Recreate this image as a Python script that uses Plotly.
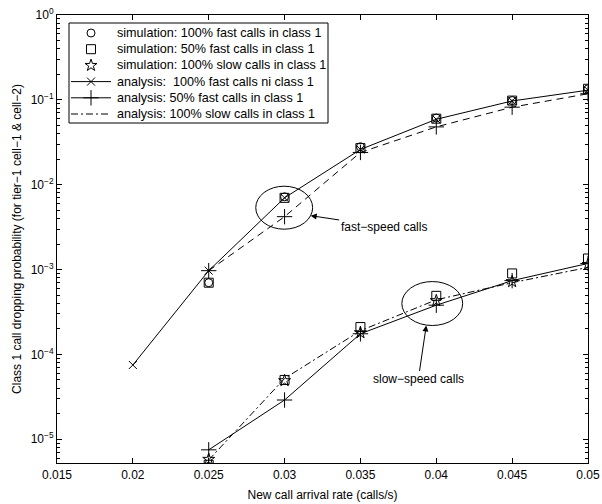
import plotly.graph_objects as go

# ---------------- data ----------------
x_all = [0.02, 0.025, 0.03, 0.035, 0.04, 0.045, 0.05]
x_sim = [0.025, 0.03, 0.035, 0.04, 0.045, 0.05]

# fast-speed group
sim_100fast_fast = [7.0e-4, 7.2e-3, 2.8e-2, 6.1e-2, 9.8e-2, 1.35e-1]
sim_50fast_fast = [7.0e-4, 7.0e-3, 2.7e-2, 6.0e-2, 9.8e-2, 1.35e-1]
ana_100fast_fast = [7.5e-5, 9.7e-4, 7.0e-3, 2.6e-2, 5.9e-2, 9.7e-2, 1.3e-1]
ana_50fast_fast = [9.7e-4, 4.2e-3, 2.4e-2, 4.8e-2, 8.2e-2, 1.18e-1]

# slow-speed group
sim_50fast_slow = [5.0e-6, 5.0e-5, 2.1e-4, 4.9e-4, 9.0e-4, 1.35e-3]
sim_100slow_slow = [5.8e-6, 4.9e-5, 1.8e-4, 4.3e-4, 7.2e-4, 1.15e-3]
ana_50fast_slow = [7.5e-6, 2.9e-5, 1.75e-4, 3.8e-4, 7.4e-4, 1.18e-3]
ana_100slow_slow = [5.7e-6, 5.2e-5, 1.9e-4, 4.4e-4, 7.0e-4, 1.06e-3]

x_ticks = [0.015, 0.02, 0.025, 0.03, 0.035, 0.04, 0.045, 0.05]
x_ticklabels = ["0.015", "0.02", "0.025", "0.03", "0.035", "0.04", "0.045", "0.05"]
y_ticks = [1e-5, 1e-4, 1e-3, 1e-2, 1e-1, 1]
y_ticklabels = ["10<sup>−5</sup>", "10<sup>−4</sup>", "10<sup>−3</sup>",
                "10<sup>−2</sup>", "10<sup>−1</sup>", "10<sup>0</sup>"]

legend_labels = [
    "simulation: 100% fast calls in class 1",
    "simulation: 50% fast calls in class 1",
    "simulation: 100% slow calls in class 1",
    "analysis:  100% fast calls ni class 1",
    "analysis: 50% fast calls in class 1",
    "analysis: 100% slow calls in class 1",
]

FONT = "Liberation Sans, Arial, Helvetica, sans-serif"
K = "black"

# styles
circle_m = dict(symbol="circle-open", size=8, color=K, line=dict(width=1, color=K))
square_m = dict(symbol="square-open", size=9, color=K, line=dict(width=1, color=K))
star_m = dict(symbol="star-open", size=9, color=K, line=dict(width=1, color=K))
x_m = dict(symbol="x-thin-open", size=8, color=K, line=dict(width=1, color=K))
plus_m = dict(symbol="cross-thin-open", size=11, color=K, line=dict(width=1, color=K))
solid = dict(color=K, width=1)
dashdot = dict(color=K, width=1, dash="7px,3px,2px,3px")
dashed = dict(color=K, width=1, dash="7px,5px")

fig = go.Figure()

# simulation markers
fig.add_trace(go.Scatter(x=x_sim, y=sim_100fast_fast, mode="markers",
                         name=legend_labels[0], marker=circle_m))
fig.add_trace(go.Scatter(x=x_sim + x_sim, y=sim_50fast_fast + sim_50fast_slow,
                         mode="markers", name=legend_labels[1], marker=square_m))
fig.add_trace(go.Scatter(x=x_sim, y=sim_100slow_slow, mode="markers",
                         name=legend_labels[2], marker=star_m))
# analysis lines
fig.add_trace(go.Scatter(x=x_all, y=ana_100fast_fast, mode="lines+markers",
                         name=legend_labels[3], line=solid, marker=x_m))
fig.add_trace(go.Scatter(x=x_sim, y=ana_50fast_slow, mode="lines+markers",
                         name=legend_labels[4], line=solid, marker=plus_m))
fig.add_trace(go.Scatter(x=x_sim, y=ana_100slow_slow, mode="lines",
                         name=legend_labels[5], line=dashdot))
fig.add_trace(go.Scatter(x=x_sim, y=ana_50fast_fast, mode="lines+markers",
                         name=legend_labels[4] + " (fast)", line=dashed, marker=plus_m))
fig.update_traces(showlegend=False)

# ---------------- hand-made legend (compact MATLAB style) ----------------
# overlay axes measured in pixels of the plot area
LEG_BOX = dict(x0=69, x1=328, y0=23, y1=123)
LEG_ROW0, LEG_ROW_STEP = 33, 16.2
SAMPLE_X0, SAMPLE_X1, SAMPLE_XC, TEXT_X = 71, 111, 91, 115
legend_styles = [
    (circle_m, None), (square_m, None), (star_m, None),
    (x_m, solid), (plus_m, solid), (None, dashdot),
]
fig.add_shape(type="rect", xref="x2", yref="y2", layer="below",
              line=dict(color=K, width=1), fillcolor="white", **LEG_BOX)
for i, (lab, (mk, ln)) in enumerate(zip(legend_labels, legend_styles)):
    ry = LEG_ROW0 + i * LEG_ROW_STEP
    if ln is not None:
        fig.add_trace(go.Scatter(x=[SAMPLE_X0, SAMPLE_X1], y=[ry, ry], mode="lines",
                                 line=ln, xaxis="x2", yaxis="y2", showlegend=False,
                                 hoverinfo="skip"))
    if mk is not None:
        fig.add_trace(go.Scatter(x=[SAMPLE_XC], y=[ry], mode="markers",
                                 marker=mk, xaxis="x2", yaxis="y2", showlegend=False,
                                 hoverinfo="skip"))
    fig.add_annotation(x=TEXT_X, y=ry, xref="x2", yref="y2", text=lab,
                       showarrow=False, xanchor="left", yanchor="middle",
                       font=dict(family=FONT, size=12.6, color=K))

# ellipses (data coordinates)
fast_ellipse = dict(x0=0.0281, x1=0.03185, y0=2.99e-3, y1=9.6e-3)
slow_ellipse = dict(x0=0.03773, x1=0.04174, y0=2.19e-4, y1=7.22e-4)
for e in (fast_ellipse, slow_ellipse):
    fig.add_shape(type="circle", xref="x", yref="y", line=dict(color=K, width=1), **e)

# arrows with labels (annotation y in log10 units)
fig.add_annotation(x=0.03172, y=-2.365, xref="x", yref="y",
                   text="fast−speed calls", showarrow=True, ax=73, ay=11,
                   arrowhead=2, arrowsize=1.2, arrowwidth=1, arrowcolor=K,
                   font=dict(family=FONT, size=12, color=K))
fig.add_annotation(x=0.03934, y=-3.659, xref="x", yref="y",
                   text="slow−speed calls", showarrow=True, ax=-8, ay=54,
                   arrowhead=2, arrowsize=1.2, arrowwidth=1, arrowcolor=K,
                   font=dict(family=FONT, size=12, color=K))

axis_common = dict(showline=True, linecolor=K, linewidth=1, mirror="ticks",
                   ticks="inside", ticklen=5, tickcolor=K, showgrid=False,
                   zeroline=False, automargin=False,
                   tickfont=dict(family=FONT, size=12, color=K))

fig.update_layout(
    xaxis=dict(range=[0.015, 0.05], tickvals=x_ticks, ticktext=x_ticklabels,
               ticklabelstandoff=1,
               title=dict(text="New call arrival rate (calls/s)", standoff=9,
                          font=dict(family=FONT, size=12, color=K)),
               **axis_common),
    yaxis=dict(type="log", range=[-5.28, 0], tickvals=y_ticks, ticktext=y_ticklabels,
               minor=dict(ticks="inside", ticklen=3, tickcolor=K, dtick="D1"),
               title=dict(text="Class 1 call dropping probability (for tier−1 cell−1 & cell−2)",
                          standoff=6, font=dict(family=FONT, size=12, color=K)),
               **axis_common),
    xaxis2=dict(overlaying="x", anchor="y2", range=[57, 588], visible=False,
                fixedrange=True, automargin=False),
    yaxis2=dict(overlaying="y", anchor="x2", range=[463, 15], visible=False,
                fixedrange=True, automargin=False),
    width=602, height=504,
    margin=dict(l=57, r=14, t=15, b=41, autoexpand=False),
    plot_bgcolor="white", paper_bgcolor="white",
    font=dict(family=FONT, size=12, color=K),
    showlegend=False,
)

fig.write_html("out.html")
